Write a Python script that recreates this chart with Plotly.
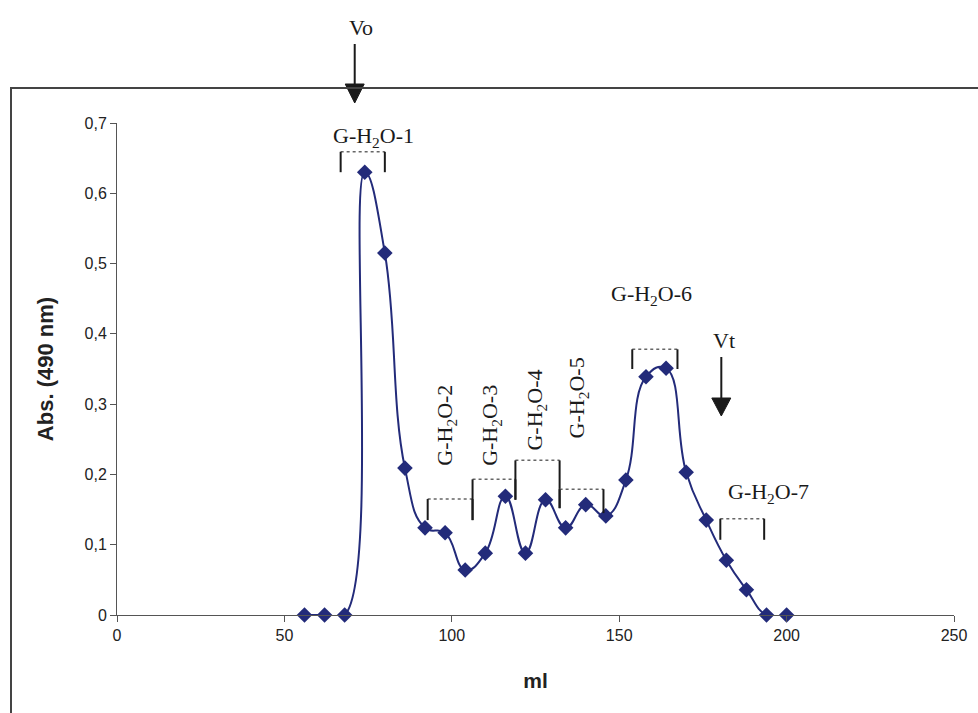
import plotly.graph_objects as go

# ---------------- data ----------------
volume_ml = [56, 62, 68, 74, 80, 86, 92, 98, 104, 110, 116, 122, 128,
             134, 140, 146, 152, 158, 164, 170, 176, 182, 188, 194, 200]
absorbance = [0.0, 0.0, 0.0, 0.630, 0.515, 0.209, 0.124, 0.117, 0.064, 0.088,
              0.169, 0.088, 0.164, 0.124, 0.157, 0.141, 0.192, 0.339, 0.351,
              0.203, 0.135, 0.078, 0.036, 0.0, 0.0]

x_ticks = [0, 50, 100, 150, 200, 250]
y_ticks = [0, 0.1, 0.2, 0.3, 0.4, 0.5, 0.6, 0.7]

# fraction labels
fraction_labels = ["G-H<sub>2</sub>O-1", "G-H<sub>2</sub>O-2", "G-H<sub>2</sub>O-3",
                   "G-H<sub>2</sub>O-4", "G-H<sub>2</sub>O-5", "G-H<sub>2</sub>O-6",
                   "G-H<sub>2</sub>O-7"]
label_x = [76.5, 98.4, 111.9, 125.3, 137.8, 159.6, 194.5]
label_y = [0.680, 0.270, 0.270, 0.2916, 0.3087, 0.455, 0.1735]
label_angle = [0, -90, -90, -90, -90, 0, 0]

# bracket ranges: start ml, end ml, top, left bottom, right bottom
bracket_x0 = [66.8, 92.8, 106.2, 119.0, 132.2, 153.9, 180.2]
bracket_x1 = [80.0, 106.2, 119.0, 132.2, 145.3, 167.4, 193.3]
bracket_top = [0.659, 0.165, 0.193, 0.220, 0.179, 0.378, 0.137]
bracket_lb = [0.630, 0.135, 0.135, 0.164, 0.152, 0.350, 0.107]
bracket_rb = [0.630, 0.135, 0.164, 0.152, 0.145, 0.350, 0.107]

# void / total volume markers
vo_ml = 71.0
vt_ml = 180.5

# ---------------- layout geometry ----------------
W, H = 978, 713
L, R, T, B = 117, 24, 123, 98
PW, PH = W - L - R, H - T - B
X_RANGE = [0, 250]
Y_RANGE = [0, 0.7]


def py2paper(py):
    return (H - B - py) / PH


def px2paper(px):
    return (px - L) / PW


def dx_px(px):
    return px * (X_RANGE[1] - X_RANGE[0]) / PW


NAVY = "#232B7A"
INK = "#1a1a1a"
AX = "#555555"
SERIF = "Liberation Serif, Times New Roman, serif"
SANS = "Liberation Sans, Arial, sans-serif"

fig = go.Figure()
fig.add_trace(go.Scatter(
    x=volume_ml, y=absorbance, mode="lines+markers",
    line=dict(color=NAVY, width=2, shape="spline", smoothing=1.3),
    marker=dict(symbol="diamond", size=12, color=NAVY),
    cliponaxis=False, showlegend=False, hoverinfo="x+y"))

shapes = []
for x0, x1, top, lb, rb in zip(bracket_x0, bracket_x1, bracket_top, bracket_lb, bracket_rb):
    shapes.append(dict(type="line", xref="x", yref="y", x0=x0, x1=x1, y0=top, y1=top,
                       line=dict(color="#666666", width=1.5, dash="dot")))
    shapes.append(dict(type="line", xref="x", yref="y", x0=x0, x1=x0, y0=lb, y1=top,
                       line=dict(color=INK, width=2)))
    shapes.append(dict(type="line", xref="x", yref="y", x0=x1, x1=x1, y0=rb, y1=top,
                       line=dict(color=INK, width=2)))

hw = dx_px(9.5)
shapes.append(dict(type="line", xref="x", yref="paper", x0=vo_ml, x1=vo_ml,
                   y0=py2paper(44), y1=py2paper(86), line=dict(color=INK, width=2)))
shapes.append(dict(type="path", xref="x", yref="paper",
                   path=f"M {vo_ml-hw},{py2paper(84)} L {vo_ml+hw},{py2paper(84)} L {vo_ml},{py2paper(103)} Z",
                   fillcolor=INK, line=dict(color=INK, width=1)))
shapes.append(dict(type="line", xref="x", yref="paper", x0=vt_ml, x1=vt_ml,
                   y0=py2paper(357), y1=py2paper(400), line=dict(color=INK, width=2)))
shapes.append(dict(type="path", xref="x", yref="paper",
                   path=f"M {vt_ml-hw},{py2paper(398)} L {vt_ml+hw},{py2paper(398)} L {vt_ml},{py2paper(416)} Z",
                   fillcolor=INK, line=dict(color=INK, width=1)))

shapes.append(dict(type="rect", xref="paper", yref="paper",
                   x0=px2paper(11), x1=px2paper(990), y0=py2paper(730), y1=py2paper(88),
                   line=dict(color="#444444", width=2), fillcolor="rgba(0,0,0,0)"))

annotations = []
for txt, lx, ly, ang in zip(fraction_labels, label_x, label_y, label_angle):
    annotations.append(dict(text=txt, x=lx, y=ly, xref="x", yref="y", showarrow=False,
                            textangle=ang, font=dict(family=SERIF, size=22, color=INK),
                            xanchor="center", yanchor="middle"))
annotations.append(dict(text="Vo", x=vo_ml + dx_px(6), y=py2paper(28), xref="x", yref="paper",
                        showarrow=False, font=dict(family=SERIF, size=22, color=INK),
                        xanchor="center", yanchor="middle"))
annotations.append(dict(text="Vt", x=vt_ml + dx_px(3), y=py2paper(340), xref="x", yref="paper",
                        showarrow=False, font=dict(family=SERIF, size=22, color=INK),
                        xanchor="center", yanchor="middle"))

fig.update_layout(
    width=W, height=H, autosize=False,
    margin=dict(l=L, r=R, t=T, b=B),
    paper_bgcolor="white", plot_bgcolor="white",
    separators=",.",
    shapes=shapes, annotations=annotations,
    xaxis=dict(range=X_RANGE, tickvals=x_ticks, showgrid=False, zeroline=False,
               showline=True, linecolor=AX, linewidth=1, ticks="outside", ticklen=6,
               tickcolor=AX, tickfont=dict(family=SANS, size=16, color="#222222"),
               title=dict(text="<b>ml</b>", font=dict(family=SANS, size=21, color="#222222"),
                          standoff=30)),
    yaxis=dict(range=Y_RANGE, tickvals=y_ticks, showgrid=False, zeroline=False,
               showline=True, linecolor=AX, linewidth=1, ticks="outside", ticklen=6,
               tickcolor=AX, tickfont=dict(family=SANS, size=16, color="#222222"),
               title=dict(text="<b>Abs. (490 nm)</b>", font=dict(family=SANS, size=22, color="#222222"),
                          standoff=24)),
)

fig.write_html("out.html", config={"displayModeBar": False},
               post_script="document.body.style.margin='0';document.body.style.overflow='hidden';")
